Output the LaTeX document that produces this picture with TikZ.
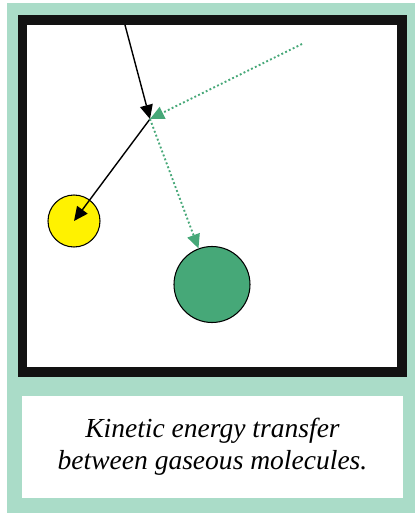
\documentclass[tikz,border=0pt]{standalone}
\usepackage{fontspec}
\setmainfont{Liberation Serif}
\usetikzlibrary{arrows.meta}

\definecolor{mint}{RGB}{170,220,200}
\definecolor{molgreen}{RGB}{70,168,120}

\begin{document}
\begin{tikzpicture}[x=0.03cm,y=-0.03cm,>={Triangle[length=12pt,width=11pt]},
 frame/.style={draw=black!93,line width=7.7pt},
 mol/.style={circle,draw,line width=0.9pt,inner sep=0pt},
 hit/.style={->,line width=1.2pt},
 pass/.style={->,draw=molgreen,line width=1.6pt,dotted,color=molgreen},
 capbox/.style={fill=white,minimum width=11.4cm,minimum height=3.06cm,align=center,
   font=\fontsize{23.5}{27.5}\selectfont\itshape}]
\useasboundingbox (0,0) rectangle (415,513);
\fill[mint] (7,3) rectangle (415,513);
% container
\fill[white] (22.5,20) rectangle (402,372);
\draw[frame] (22.5,20) rectangle (402,372);
% molecules
\node[mol,fill=yellow,minimum size=1.56cm] (yel) at (74,221) {};
\node[mol,fill=molgreen,minimum size=2.28cm] (grn) at (212,284.5) {};
\coordinate (hitpt) at (150,119);
\coordinate (yelin) at (125,25);
\coordinate (grnin) at (302,44);
\draw[hit] (yelin) -- (hitpt);
\draw[pass] (grnin) -- (hitpt);
\draw[hit] (hitpt) -- (yel.center);
\draw[pass] (hitpt) -- (grn);
% caption
\node[capbox] (cap) at (212.5,447) {Kinetic energy transfer\\between gaseous molecules.};
\end{tikzpicture}
\end{document}
